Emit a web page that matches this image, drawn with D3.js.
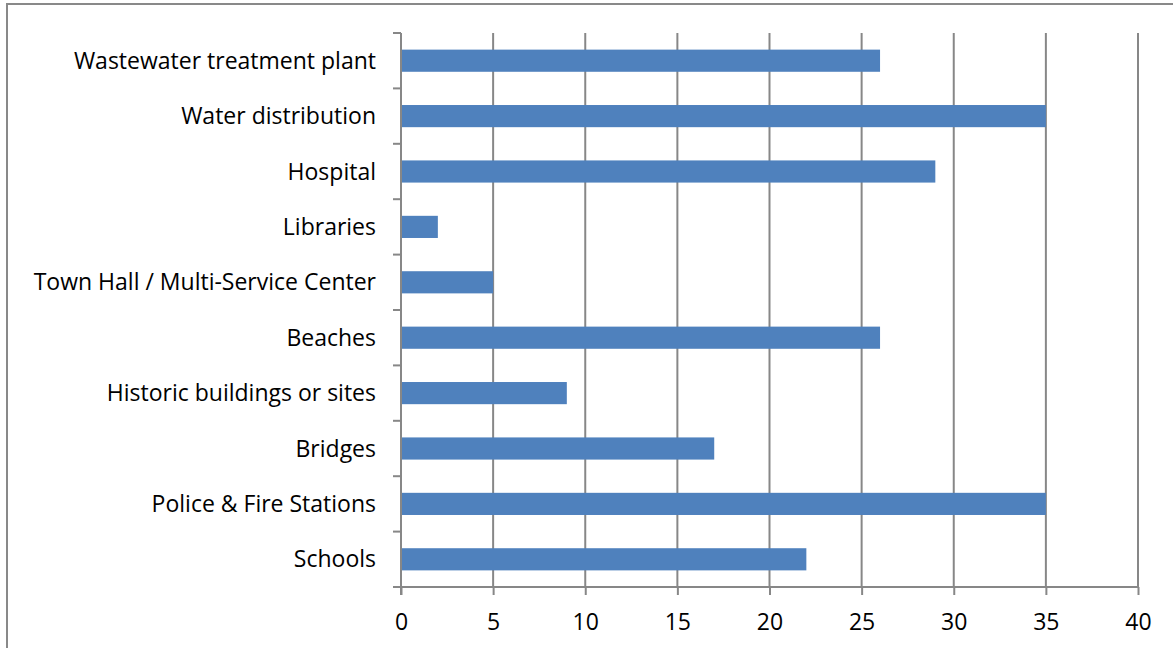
<!DOCTYPE html>
<html>
<head>
<meta charset="utf-8">
<script src="https://cdnjs.cloudflare.com/ajax/libs/d3/7.8.5/d3.min.js"></script>
<style>
  body { margin: 0; background: #fff; }
  svg { display: block; }
  text { font-family: "Open Sans", "Noto Sans", sans-serif; fill: #000; }
</style>
</head>
<body>
<svg id="chart" width="1173" height="648"></svg>
<script>
// categories, top to bottom
var categories = [
  'Wastewater treatment plant',
  'Water distribution',
  'Hospital',
  'Libraries',
  'Town Hall / Multi-Service Center',
  'Beaches',
  'Historic buildings or sites',
  'Bridges',
  'Police & Fire Stations',
  'Schools'
];
var values = [26, 35, 29, 2, 5, 26, 9, 17, 35, 22];
var xTicks = [0, 5, 10, 15, 20, 25, 30, 35, 40];

var svg = d3.select('#chart');
var margin = { left: 401, right: 35, top: 33, bottom: 61 };
var W = 1173, H = 648;

// chart frame (cut by the page edge)
svg.append('rect')
  .attr('x', 7).attr('y', 4)
  .attr('width', 1200).attr('height', 700)
  .attr('fill', 'none')
  .attr('stroke', '#898989')
  .attr('stroke-width', 2);

var x = d3.scaleLinear().domain([0, 40]).range([margin.left, W - margin.right]);
var y = d3.scaleBand().domain(categories).range([margin.top, H - margin.bottom]).paddingInner(0.6).paddingOuter(0.3);
var yb = d3.scaleBand().domain(categories).range([margin.top, H - margin.bottom]);

var gridColor = '#878787';

// vertical gridlines
svg.append('g').selectAll('line')
  .data(xTicks.slice(1))
  .enter().append('line')
  .attr('x1', function(d) { return x(d); })
  .attr('x2', function(d) { return x(d); })
  .attr('y1', margin.top)
  .attr('y2', H - margin.bottom)
  .attr('stroke', gridColor)
  .attr('stroke-width', 2);

// bars
svg.append('g').selectAll('rect')
  .data(values)
  .enter().append('rect')
  .attr('x', x(0))
  .attr('y', function(d, i) { return y(categories[i]); })
  .attr('width', function(d) { return x(d) - x(0); })
  .attr('height', y.bandwidth())
  .attr('fill', '#4f81bd');

// x axis
var xAxis = svg.append('g')
  .attr('transform', 'translate(0,' + (H - margin.bottom) + ')')
  .call(d3.axisBottom(x).tickValues(xTicks).tickSize(8).tickPadding(19).tickSizeOuter(0));
xAxis.select('.domain').attr('stroke', gridColor).attr('stroke-width', 2)
  .attr('d', 'M' + (x(0) - 8) + ',0H' + x(40));
xAxis.selectAll('.tick line').attr('stroke', gridColor).attr('stroke-width', 2);
xAxis.selectAll('.tick text').style('font-size', '23px').attr('fill', '#000');

// y axis: ticks on category boundaries
var bounds = categories.map(function(c) { return yb(c); });
var yAxis = svg.append('g');
yAxis.append('line')
  .attr('x1', x(0)).attr('x2', x(0))
  .attr('y1', margin.top).attr('y2', H - margin.bottom + 8)
  .attr('stroke', gridColor).attr('stroke-width', 2);
yAxis.selectAll('line.tk')
  .data(bounds)
  .enter().append('line')
  .attr('class', 'tk')
  .attr('x1', x(0) - 8).attr('x2', x(0))
  .attr('y1', function(d) { return d; })
  .attr('y2', function(d) { return d; })
  .attr('stroke', gridColor).attr('stroke-width', 2);

yAxis.selectAll('text')
  .data(categories)
  .enter().append('text')
  .attr('x', x(0) - 25)
  .attr('y', function(d) { return yb(d) + yb.bandwidth() / 2; })
  .attr('dy', '0.35em')
  .attr('text-anchor', 'end')
  .style('font-size', '23px')
  .text(function(d) { return d; });
</script>
</body>
</html>
